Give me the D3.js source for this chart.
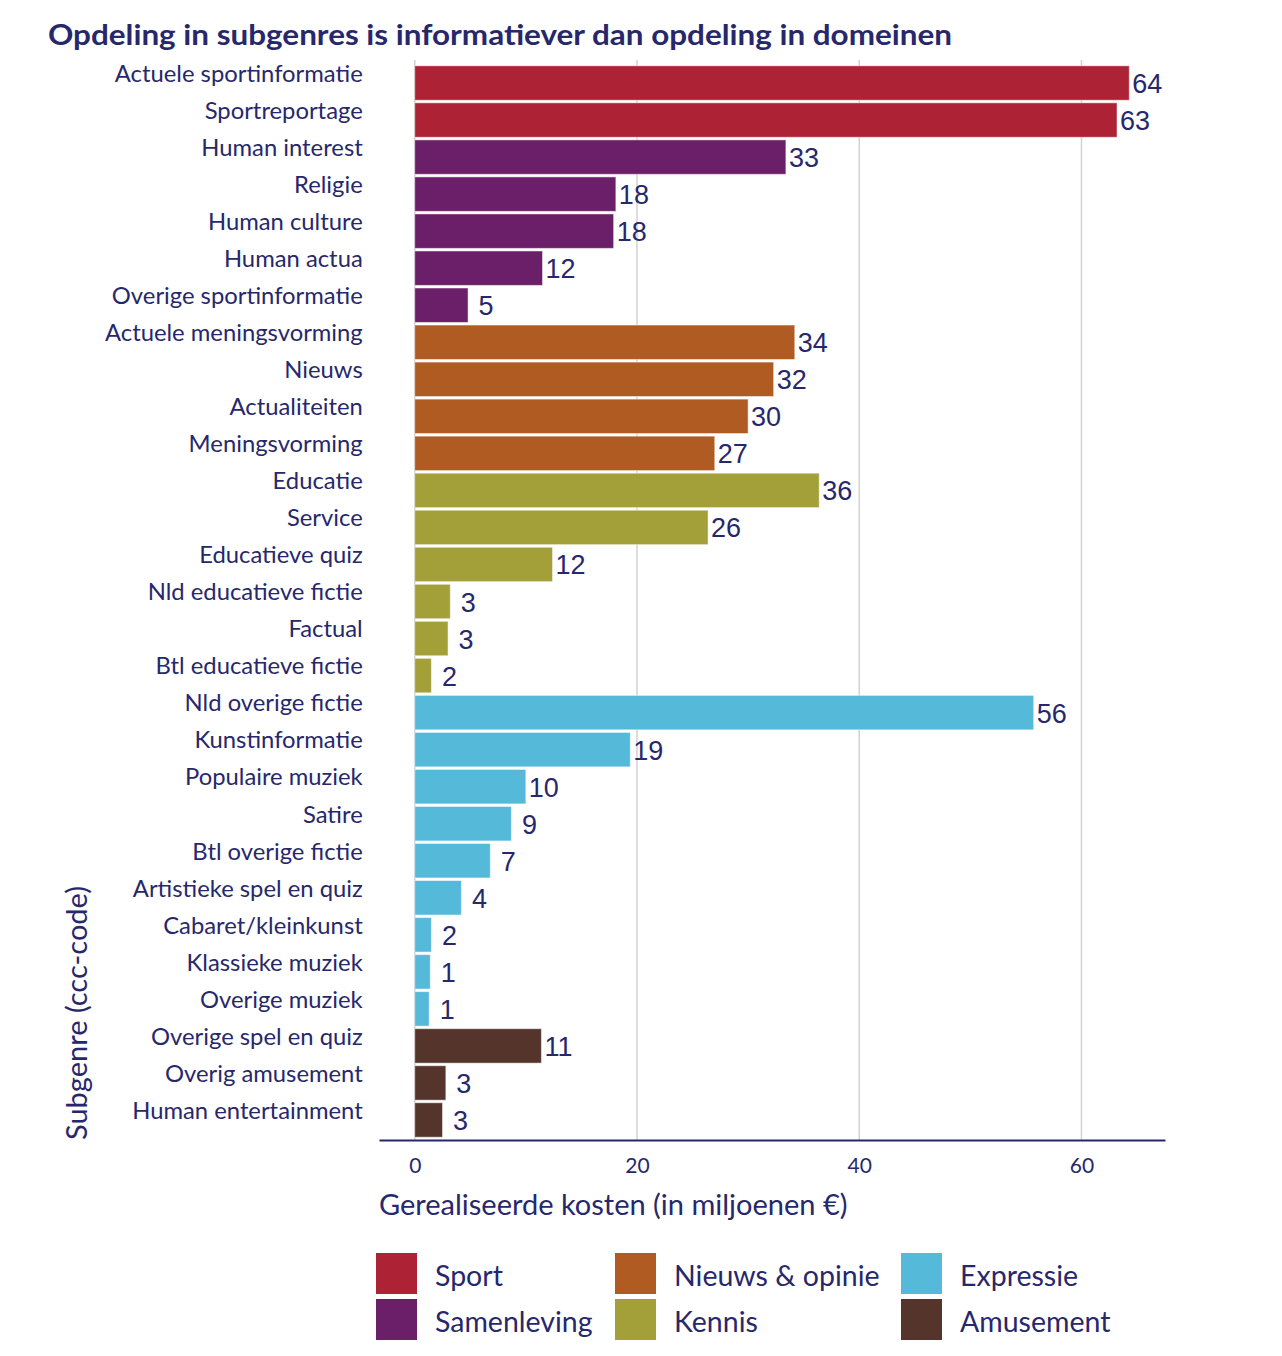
<!DOCTYPE html>
<html>
<head>
<meta charset="utf-8">
<script src="https://cdn.jsdelivr.net/npm/d3@7"></script>
<style>
  body { margin: 0; background: #fff; }
  text { fill: #27286b; }
</style>
</head>
<body>
<script>
// subgenres, top to bottom
const subgenres = [
  "Actuele sportinformatie", "Sportreportage", "Human interest", "Religie",
  "Human culture", "Human actua", "Overige sportinformatie",
  "Actuele meningsvorming", "Nieuws", "Actualiteiten", "Meningsvorming",
  "Educatie", "Service", "Educatieve quiz", "Nld educatieve fictie", "Factual",
  "Btl educatieve fictie", "Nld overige fictie", "Kunstinformatie",
  "Populaire muziek", "Satire", "Btl overige fictie", "Artistieke spel en quiz",
  "Cabaret/kleinkunst", "Klassieke muziek", "Overige muziek",
  "Overige spel en quiz", "Overig amusement", "Human entertainment"
];
// realised costs, millions of euro
const costs = [
  64.3, 63.2, 33.4, 18.1, 17.9, 11.5, 4.8,
  34.2, 32.3, 30.0, 27.0,
  36.4, 26.4, 12.4, 3.2, 3.0, 1.5,
  55.7, 19.4, 10.0, 8.7, 6.8, 4.2, 1.5, 1.4, 1.3,
  11.4, 2.8, 2.5
];
const domains = [
  "Sport", "Sport", "Samenleving", "Samenleving", "Samenleving", "Samenleving", "Samenleving",
  "Nieuws & opinie", "Nieuws & opinie", "Nieuws & opinie", "Nieuws & opinie",
  "Kennis", "Kennis", "Kennis", "Kennis", "Kennis", "Kennis",
  "Expressie", "Expressie", "Expressie", "Expressie", "Expressie", "Expressie", "Expressie", "Expressie", "Expressie",
  "Amusement", "Amusement", "Amusement"
];
const domainNames = ["Sport", "Samenleving", "Nieuws & opinie", "Kennis", "Expressie", "Amusement"];
const domainColors = ["#ad2235", "#6a1f68", "#b05b22", "#a3a03a", "#55b9da", "#55342b"];
const xTicks = [0, 20, 40, 60];

const rows = subgenres.map((s, i) => ({ name: s, value: costs[i], domain: domains[i] }));

const width = 1282, height = 1356;
const navy = "#27286b";
const font = "Lato, 'Noto Sans', sans-serif";

const svg = d3.select("body").append("svg")
    .attr("width", width)
    .attr("height", height);

const maxV = d3.max(costs);
const x = d3.scaleLinear()
    .domain([-0.05 * maxV, 1.05 * maxV])
    .range([379, 1165]);

const y = d3.scaleBand()
    .domain(subgenres)
    .range([64.5, 1138.5])
    .paddingInner(0.07)
    .paddingOuter(0.035);

const color = d3.scaleOrdinal()
    .domain(domainNames)
    .range(domainColors);

// title
svg.append("text")
    .attr("x", 48)
    .attr("y", 45)
    .attr("font-family", font)
    .attr("font-weight", 700)
    .attr("font-size", 29)
    .attr("textLength", 904)
    .attr("lengthAdjust", "spacingAndGlyphs")
    .text("Opdeling in subgenres is informatiever dan opdeling in domeinen");

// gridlines
svg.append("g")
  .selectAll("line")
  .data(xTicks)
  .join("line")
    .attr("x1", d => x(d))
    .attr("x2", d => x(d))
    .attr("y1", 60)
    .attr("y2", 1140)
    .attr("stroke", "#d2d2d2")
    .attr("stroke-width", 1.5);

// bars
svg.append("g")
  .selectAll("rect")
  .data(rows)
  .join("rect")
    .attr("x", x(0))
    .attr("y", d => y(d.name))
    .attr("width", d => x(d.value) - x(0))
    .attr("height", y.bandwidth())
    .attr("fill", d => color(d.domain))
    .attr("stroke", "#fff")
    .attr("stroke-opacity", 0.5)
    .attr("stroke-width", 1);

// value labels (padded to width 2 like the original)
const fmt = d3.format("2.0f");
svg.append("g")
  .selectAll("text")
  .data(rows)
  .join("text")
    .attr("x", d => x(d.value) + 3)
    .attr("y", d => y(d.name) + y.bandwidth() / 2 + 10)
    .attr("font-family", "'Liberation Sans', Arial, sans-serif")
    .attr("font-size", 27)
    .style("white-space", "pre")
    .text(d => fmt(Math.round(d.value)));

// category labels
const yAxis = svg.append("g")
    .attr("transform", `translate(${x(0)},0)`)
    .call(d3.axisLeft(y).tickSize(0).tickPadding(52));
yAxis.select(".domain").remove();
yAxis.selectAll("text")
    .attr("font-family", font)
    .attr("font-size", 23.8)
    .attr("dy", "-0.05em")
    .style("fill", navy);

// x axis
const xAxis = svg.append("g")
    .attr("transform", "translate(0,1140)")
    .call(d3.axisBottom(x).tickValues(xTicks).tickSize(0).tickPadding(18));
xAxis.select(".domain")
    .attr("stroke", navy)
    .attr("stroke-width", 2);
xAxis.selectAll("text")
    .attr("font-family", font)
    .attr("font-size", 21)
    .style("fill", navy);

svg.append("text")
    .attr("x", 379)
    .attr("y", 1215)
    .attr("font-family", font)
    .attr("font-size", 29)
    .text("Gerealiseerde kosten (in miljoenen €)");

svg.append("text")
    .attr("transform", "translate(87,1140) rotate(-90)")
    .attr("font-family", font)
    .attr("font-size", 29)
    .text("Subgenre (ccc-code)");

// legend
const legendCols = [376, 615, 901];
const legend = svg.append("g")
  .selectAll("g")
  .data(["Sport", "Samenleving", "Nieuws & opinie", "Kennis", "Expressie", "Amusement"])
  .join("g")
    .attr("transform", (d, i) => `translate(${legendCols[Math.floor(i / 2)]},${1253 + (i % 2) * 46})`);
legend.append("rect")
    .attr("width", 41)
    .attr("height", 41)
    .attr("fill", d => color(d));
legend.append("text")
    .attr("x", 59)
    .attr("y", 33)
    .attr("font-family", font)
    .attr("font-size", 28.5)
    .text(d => d);
</script>
</body>
</html>
